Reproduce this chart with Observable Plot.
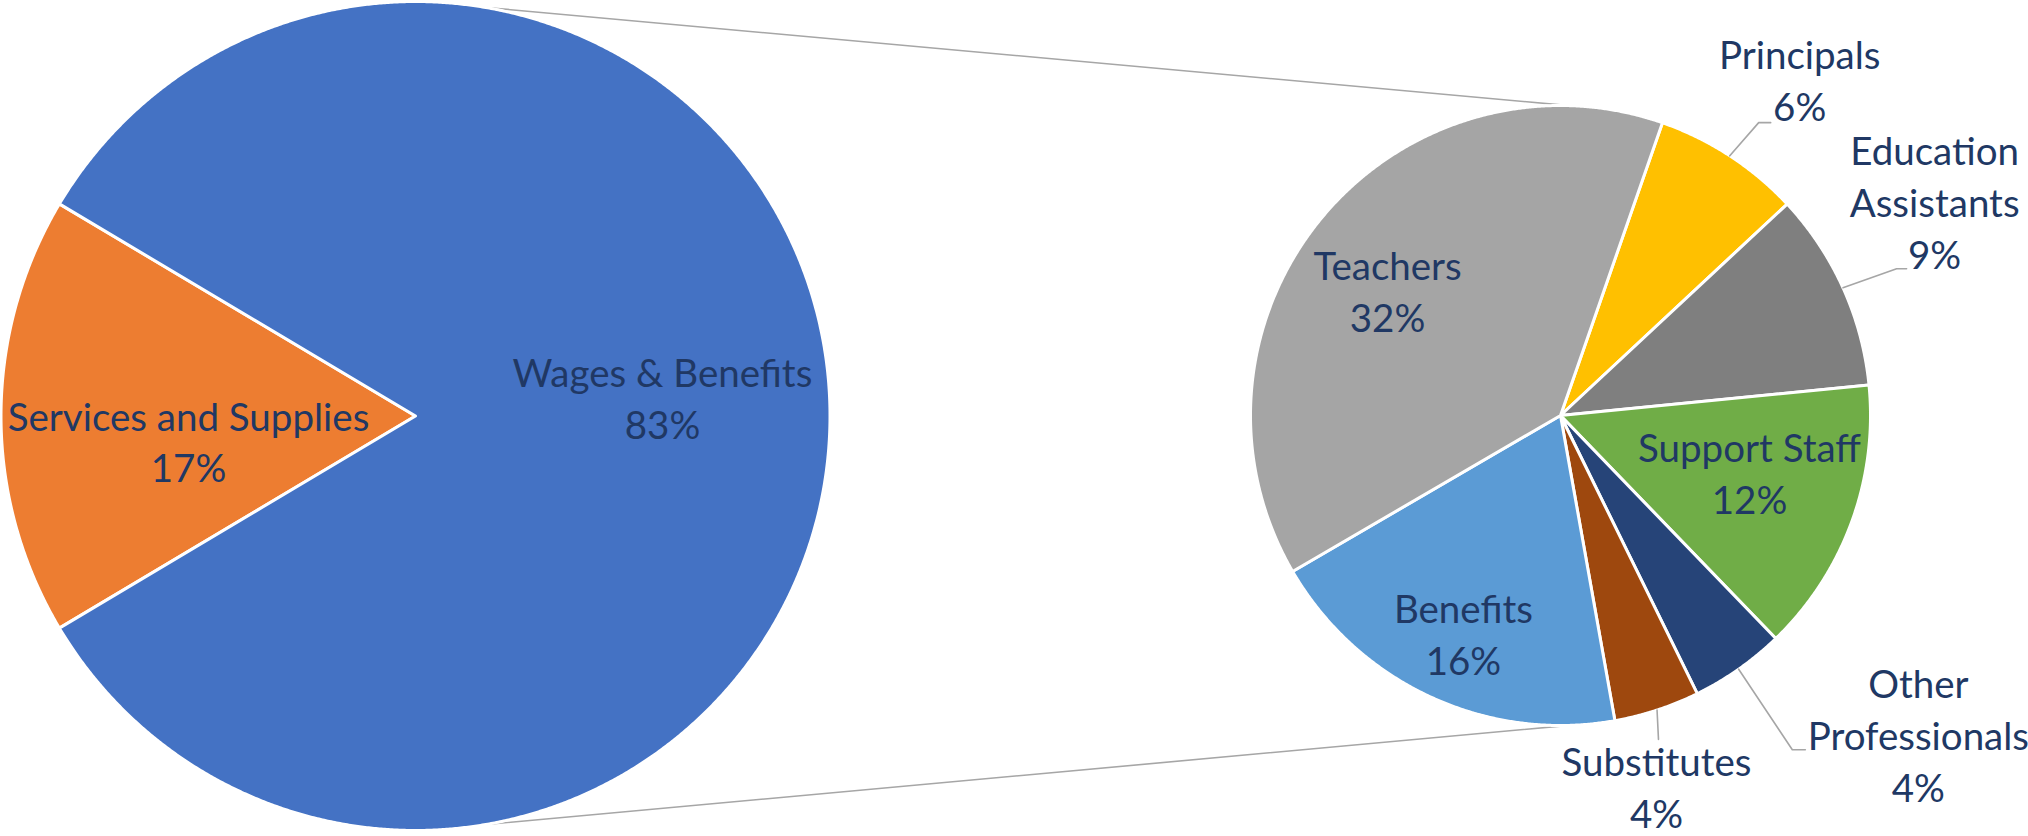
<!DOCTYPE html>
<html>
<head>
<meta charset="utf-8">
<script src="https://cdn.jsdelivr.net/npm/d3@7"></script>
<script src="https://cdn.jsdelivr.net/npm/@observablehq/plot@0.6"></script>
<style>
  html, body { margin: 0; padding: 0; background: #ffffff; }
  #chart svg { display: block; }
</style>
</head>
<body>
<div id="chart"></div>
<script>
// ---------- data (percent of total spending) ----------
const mainCategories = ["Services and Supplies", "Wages & Benefits"];
const mainValues = [17.1, 82.9];
const mainLabels = ["Services and Supplies", "Wages & Benefits"];

const subCategories = ["Principals", "Education Assistants", "Support Staff", "Other Professionals", "Substitutes", "Benefits", "Teachers"];
const subValues = [6.4, 8.6, 11.9, 4.1, 3.7, 16.1, 32.1];
const subLabels = ["Principals", "Education\nAssistants", "Support Staff", "Other\nProfessionals", "Substitutes", "Benefits", "Teachers"];

// ---------- styles ----------
const mainColors = ["#ED7D31", "#4472C4"];
const subColors = ["#FFC000", "#7F7F7F", "#70AD47", "#264478", "#9E480E", "#5B9BD5", "#A5A5A5"];
const textColor = "#203864";
const lineColor = "#A6A6A6";

// ---------- layout ----------
const W = 2028, H = 836;
const FONT = 38.5;
const LINE_PX = 52;
const pieMain = {cx: 415, cy: 415.5, r: 414.5, start: 270 - mainValues[0] / 100 * 180};
const pieSub = {cx: 1560, cy: 415, r: 310, start: 19.2};
// label placement: [angle (deg clockwise from 12 o'clock), distance from pie centre in px]
const labelPlacement = {
  "Services and Supplies": [263.0, 228.7],
  "Wages & Benefits": [86.3, 247.5],
  "Teachers": [305.2, 211.7],
  "Benefits": [203.7, 241.4],
  "Support Staff": [107.6, 198.3],
  "Education Assistants": [60.6, 429.4],
  "Principals": [35.7, 409.9],
  "Other Professionals": [132.0, 481.5],
  "Substitutes": [165.6, 386]
};
// leader line bends, as pixel offsets from the label centre
const leaderBends = {
  "Principals": [[-41, 40], [-29, 40]],
  "Education Assistants": [[-38, 64], [-28, 64]],
  "Other Professionals": [[-126, 12], [-113, 12]],
  "Substitutes": [[2, -50]]
};
// series-line attachment angles (deg) on each pie
const seriesAngles = {main: 9.7, sub: 1.5};

// ---------- geometry helpers ----------
const rad = d => d * Math.PI / 180;
const polar = (p, aRad, dist) => [p.cx + dist * Math.sin(aRad), p.cy - dist * Math.cos(aRad)];

function slices(pie, cats, vals) {
  const arcs = d3.pie().sort(null).value(d => d)
    .startAngle(rad(pie.start)).endAngle(rad(pie.start) + 2 * Math.PI)(vals);
  const pts = [];
  const info = [];
  arcs.forEach((a, i) => {
    const cat = cats[i];
    pts.push({cat, x: pie.cx, y: pie.cy});
    const n = Math.max(2, Math.ceil((a.endAngle - a.startAngle) / rad(0.25)));
    for (let k = 0; k <= n; k++) {
      const t = a.startAngle + (a.endAngle - a.startAngle) * k / n;
      const [x, y] = polar(pie, t, pie.r);
      pts.push({cat, x, y});
    }
    info.push({cat, value: vals[i], mid: (a.startAngle + a.endAngle) / 2});
  });
  return {pts, info};
}

const main = slices(pieMain, mainCategories, mainValues);
const sub = slices(pieSub, subCategories, subValues);

// labels
const labels = [];
function addLabels(pie, info, texts) {
  info.forEach((s, i) => {
    const [ang, dist] = labelPlacement[s.cat];
    const [x, y] = polar(pie, rad(ang), dist);
    labels.push({cat: s.cat, x, y, text: texts[i] + "\n" + Math.round(s.value) + "%", pie, mid: s.mid});
  });
}
addLabels(pieMain, main.info, mainLabels);
addLabels(pieSub, sub.info, subLabels);

// leader lines
const leaders = [];
labels.forEach(l => {
  const bends = leaderBends[l.cat];
  if (!bends) return;
  const [sx, sy] = polar(l.pie, l.mid, l.pie.r);
  leaders.push({id: l.cat, x: sx, y: sy});
  bends.forEach(([dx, dy]) => leaders.push({id: l.cat, x: l.x + dx, y: l.y + dy}));
});

// series lines joining the two pies
const series = [];
[["top", 0], ["bottom", 180]].forEach(([id, base]) => {
  const sgn = base === 0 ? 1 : -1;
  const [x1, y1] = polar(pieMain, rad(base + sgn * seriesAngles.main), pieMain.r);
  const [x2, y2] = polar(pieSub, rad(base + sgn * seriesAngles.sub), pieSub.r);
  series.push({id, x: x1, y: y1}, {id, x: x2, y: y2});
});

const chart = Plot.plot({
  width: W,
  height: H,
  margin: 0,
  x: {domain: [0, W], range: [0, W], axis: null},
  y: {domain: [0, H], range: [0, H], axis: null},
  color: {domain: [...mainCategories, ...subCategories], range: [...mainColors, ...subColors]},
  style: {fontFamily: "Lato, 'Open Sans', sans-serif", background: "#ffffff"},
  marks: [
    Plot.line(series, {x: "x", y: "y", z: "id", stroke: lineColor, strokeWidth: 1.6}),
    Plot.line(main.pts, {x: "x", y: "y", z: "cat", fill: "cat", stroke: "white", strokeWidth: 3, curve: "linear-closed", strokeLinejoin: "round"}),
    Plot.line(sub.pts, {x: "x", y: "y", z: "cat", fill: "cat", stroke: "white", strokeWidth: 3, curve: "linear-closed", strokeLinejoin: "round"}),
    Plot.line(leaders, {x: "x", y: "y", z: "id", stroke: lineColor, strokeWidth: 1.6}),
    Plot.text(labels, {x: "x", y: "y", text: "text", fill: textColor, fontSize: FONT, lineHeight: LINE_PX / FONT, fontFamily: "Lato", dy: -4})
  ]
});
document.getElementById("chart").appendChild(chart);
</script>
</body>
</html>
